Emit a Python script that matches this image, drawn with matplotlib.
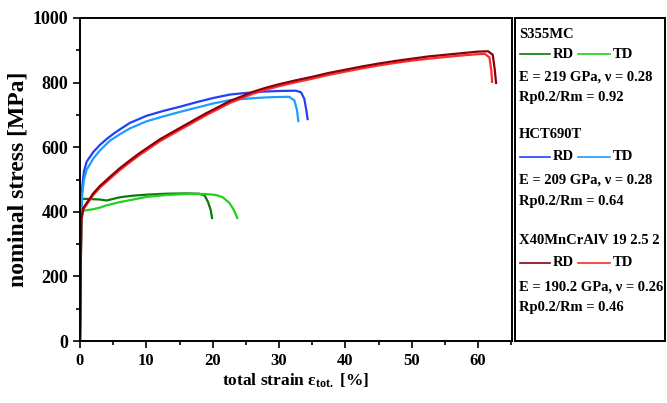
import matplotlib
matplotlib.use("Agg")
import matplotlib.pyplot as plt
from matplotlib.lines import Line2D

plt.rcParams['font.family'] = ['Liberation Serif', 'DejaVu Serif']
plt.rcParams['font.weight'] = 'bold'
plt.rcParams['mathtext.fontset'] = 'custom'
plt.rcParams['mathtext.rm'] = 'Liberation Serif:bold'
plt.rcParams['mathtext.it'] = 'Liberation Serif:bold'
plt.rcParams['mathtext.bf'] = 'Liberation Serif:bold'

# ---- data (strain %, nominal stress MPa) ----
s355_rd_strain = [0, 0.2, 1, 2, 3, 4, 5, 6, 8, 10, 13, 16, 18, 18.8, 19.3, 19.7, 19.9]
s355_rd_stress = [0, 440, 440, 439, 438, 435, 440, 445, 450, 453, 456, 457, 456, 450, 430, 405, 381]
s355_td_strain = [0, 0.2, 1, 2, 3, 4, 6, 8, 10, 13, 16, 19, 20.5, 21.5, 22.5, 23.2, 23.7]
s355_td_stress = [0, 402, 405, 408, 413, 420, 430, 438, 446, 452, 455, 455, 452, 445, 428, 405, 381]

hct_rd_strain = [0, 0.2, 0.35, 0.6, 1, 2, 3, 4, 5, 6, 7.5, 10, 12.5, 15, 17.5, 20, 22.6, 25, 27.5, 30, 32.5, 33.3, 33.8, 34.1, 34.3]
hct_rd_stress = [0, 430, 480, 525, 555, 585, 607, 625, 641, 655, 675, 697, 712, 725, 739, 752, 763, 768, 772, 774, 775, 770, 750, 715, 687]
hct_td_strain = [0, 0.2, 0.35, 0.6, 1, 2, 3, 4.5, 6, 7.5, 10, 12.5, 15, 17.5, 20, 22.6, 25, 27, 29, 31.5, 32.3, 32.7, 32.9]
hct_td_stress = [0, 410, 455, 500, 530, 565, 590, 620, 640, 658, 680, 695, 709, 722, 735, 746, 750, 753, 755, 756, 745, 715, 681]

x40_rd_strain = [0, 0.2, 0.5, 1, 2, 3, 4.5, 6, 7.5, 9, 12, 15, 19, 22.6, 26, 28, 30, 32.5, 35, 37.5, 40, 42.5, 45, 47.5, 50, 52.5, 55, 57.5, 60, 61.5, 62.2, 62.5, 62.7]
x40_rd_stress = [0, 378, 412, 427, 457, 480, 508, 535, 559, 582, 624, 659, 705, 743, 771, 784, 795, 807, 818, 830, 840, 850, 859, 867, 874, 881, 886, 891, 896, 897, 886, 840, 799]
x40_td_strain = [0, 0.2, 0.5, 1, 2, 3, 4.5, 6, 7.5, 9, 12, 15, 19, 22.6, 26, 28, 30, 32.5, 35, 37.5, 40, 42.5, 45, 47.5, 50, 52.5, 55, 57.5, 60, 61.0, 61.7, 62.0, 62.1]
x40_td_stress = [0, 372, 407, 422, 452, 475, 502, 529, 553, 576, 618, 653, 699, 737, 765, 778, 789, 801, 812, 824, 834, 844, 853, 861, 868, 874, 879, 884, 888, 889, 878, 835, 802]

x_ticks = [0, 10, 20, 30, 40, 50, 60]
y_ticks = [0, 200, 400, 600, 800, 1000]

c_s_rd, c_s_td = '#0b7a0b', '#1ed21e'
c_h_rd, c_h_td = '#2240f5', '#1e9cff'
c_x_rd, c_x_td = '#8a0008', '#ff2a2a'

fig = plt.figure(figsize=(6.67, 4.03), dpi=100)
ax = fig.add_axes([80/667, 62/403, 432/667, 323/403])

lw = 1.6
ax.plot(s355_rd_strain, s355_rd_stress, color=c_s_rd, lw=lw)
ax.plot(s355_td_strain, s355_td_stress, color=c_s_td, lw=lw)
ax.plot(hct_rd_strain, hct_rd_stress, color=c_h_rd, lw=lw)
ax.plot(hct_td_strain, hct_td_stress, color=c_h_td, lw=lw)
ax.plot(x40_td_strain, x40_td_stress, color=c_x_td, lw=lw)
ax.plot(x40_rd_strain, x40_rd_stress, color=c_x_rd, lw=lw)

ax.set_xlim(0, 65.1)
ax.set_ylim(0, 1000)
ax.set_xticks(x_ticks)
ax.set_yticks(y_ticks)
ax.set_xticks([5, 15, 25, 35, 45, 55, 65], minor=True)
ax.set_yticks([100, 300, 500, 700, 900], minor=True)
ax.tick_params(axis='both', which='major', direction='out', length=5, width=1.2)
ax.tick_params(axis='both', which='minor', direction='out', length=3, width=1.2)
ax.tick_params(axis='x', labelsize=12)
ax.tick_params(axis='y', labelsize=13)
for lab in ax.get_xticklabels() + ax.get_yticklabels():
    lab.set_fontweight('bold')
for sp in ax.spines.values():
    sp.set_linewidth(1.4)

ax.set_ylabel('nominal stress [MPa]', fontsize=17, fontweight='bold', labelpad=3)
ax.set_xlabel(r'total strain $\mathbf{\varepsilon}_{\mathbf{tot.}}$ [%]', fontsize=12.5,
              fontweight='bold', labelpad=2)

# ---- legend panel ----
lg = fig.add_axes([515/667, 62/403, 150/667, 323/403])
lg.set_xlim(0, 150)
lg.set_ylim(323, 0)
lg.set_xticks([])
lg.set_yticks([])
for sp in lg.spines.values():
    sp.set_linewidth(1.4)

groups = [
    ('S355MC', c_s_rd, c_s_td, 'E = 219 GPa, ν = 0.28', 'Rp0.2/Rm = 0.92', [17, 36, 59, 80]),
    ('HCT690T', c_h_rd, c_h_td, 'E = 209 GPa, ν = 0.28', 'Rp0.2/Rm = 0.64', [117, 139, 162, 184]),
    ('X40MnCrAlV 19 2.5 2', c_x_rd, c_x_td, 'E = 190.2 GPa, ν = 0.26', 'Rp0.2/Rm = 0.46', [222, 245, 269, 289]),
]
fs = 10.5
for name, crd, ctd, etxt, rtxt, ys in groups:
    lg.text(4, ys[0], name, fontsize=fs, fontweight='bold', va='center', ha='left')
    yr = ys[1]
    lg.add_line(Line2D([5, 35], [yr, yr], color=crd, lw=1.2))
    lg.text(38, yr, 'RD', fontsize=fs, fontweight='bold', va='center', ha='left')
    lg.add_line(Line2D([63, 95], [yr, yr], color=ctd, lw=1.2))
    lg.text(98, yr, 'TD', fontsize=fs, fontweight='bold', va='center', ha='left')
    lg.text(4, ys[2], etxt, fontsize=fs, fontweight='bold', va='center', ha='left')
    lg.text(4, ys[3], rtxt, fontsize=fs, fontweight='bold', va='center', ha='left')

fig.savefig('out.png', dpi=100)
